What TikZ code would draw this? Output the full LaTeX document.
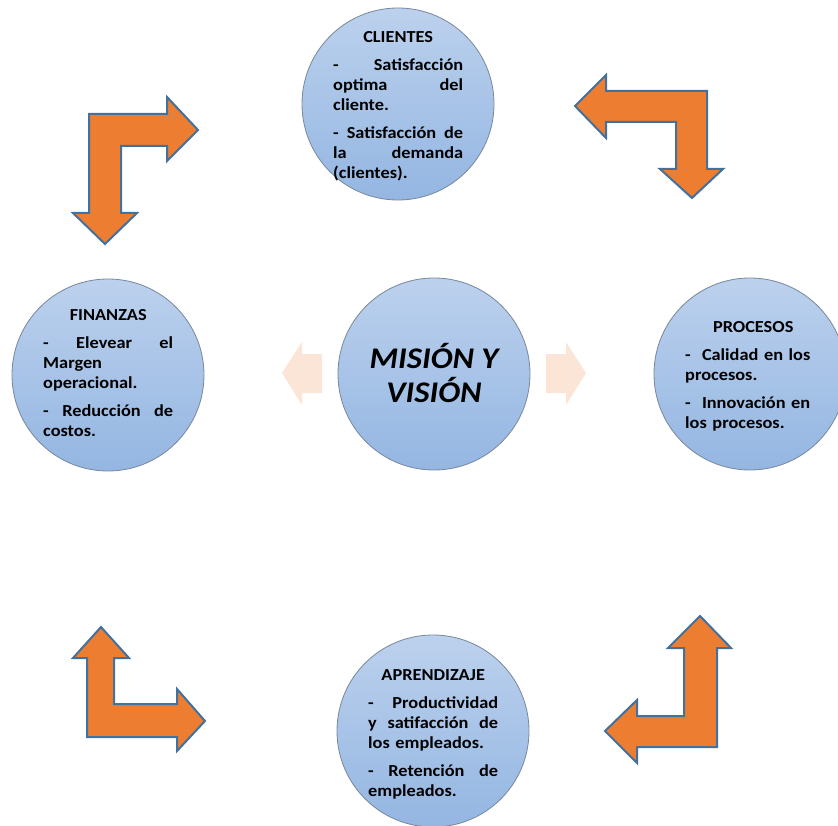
\documentclass[tikz,border=0pt]{standalone}
\usepackage{fontspec}
\setmainfont{Carlito}[FakeStretch=1.09]
\setlength\parindent{0pt}
\definecolor{orangeF}{RGB}{237,125,49}
\definecolor{orangeB}{RGB}{65,113,156}
\definecolor{peach}{RGB}{251,229,214}
\definecolor{ctop}{RGB}{188,209,237}
\definecolor{cbot}{RGB}{148,182,226}
\definecolor{cline}{RGB}{120,135,155}
\begin{document}
\begin{tikzpicture}[x=1pt,y=-1pt,
  circ/.style={circle, minimum size=192pt, inner sep=0pt, draw=cline, line width=0.8pt, top color=ctop, bottom color=cbot},
  bendarrow/.style={fill=orangeF, draw=orangeB, line width=2pt, line join=miter},
  fadearrow/.style={fill=peach},
  txt/.style={anchor=north west, inner sep=0pt, text width=130pt, align=left, font=\fontsize{16.8}{20}\selectfont\bfseries},
  mtxt/.style={inner sep=0pt, align=center, font=\fontsize{30}{34}\selectfont\bfseries\itshape}
  ]
\useasboundingbox (0,0) rectangle (838,826);

% circles
\node[circ] (cli) at (398,104) {};
\node[circ] (fin) at (108,375) {};
\node[circ] (mis) at (434,374) {};
\node[circ] (pro) at (750,374) {};
\node[circ] (apr) at (433,731) {};

% texts
\node[txt] (clit) at (333,31) {\hfill CLIENTES\hfill\null\\[8pt]
-\hfill Satisfacción\\
optima\hfill del\\
cliente.\\[8pt]
-\hfill Satisfacción\hfill de\\
la\hfill demanda\\
(clientes).};

\node[txt] (fint) at (43,309) {\hfill FINANZAS\hfill\null\\[8pt]
-\hfill Elevear\hfill el\\
Margen\\
operacional.\\[8pt]
-\hfill Reducción\hfill de\\
costos.};

\node[txt, text width=136pt] (prot) at (685,321) {\hfill PROCESOS\hfill\null\\[8pt]
-~ Calidad en los\\
procesos.\\[8pt]
-~ Innovación en\\
los procesos.};

\node[txt] (aprt) at (368,669) {\hfill APRENDIZAJE\hfill\null\\[8pt]
-\hfill Productividad\\
y\hfill satifacción\hfill de\\
los empleados.\\[8pt]
-\hfill Retención\hfill de\\
empleados.};

\node[mtxt] (mist) at (434,373) {MISIÓN Y\\VISIÓN};

% bent arrows
\draw[bendarrow] (89,114) -- (167,114) -- (167,97) -- (198,130) -- (167,161) -- (167,146) -- (121,146) -- (121,213) -- (137,213) -- (105,244) -- (73,213) -- (89,213) -- cycle;
\draw[bendarrow] (575,106) -- (606,75) -- (606,91) -- (707,91) -- (707,169) -- (723,169) -- (692,198) -- (660,169) -- (676,169) -- (676,122) -- (606,122) -- (606,138) -- cycle;
\draw[bendarrow] (101,627) -- (129,658) -- (114,658) -- (114,704) -- (177,704) -- (177,689) -- (205,721) -- (177,751) -- (177,737) -- (87,737) -- (87,658) -- (73,658) -- cycle;
\draw[bendarrow] (700,616) -- (731,648) -- (717,648) -- (717,747) -- (637,747) -- (637,763) -- (605,731) -- (637,700) -- (637,716) -- (684,716) -- (684,648) -- (668,648) -- cycle;

% faded arrows
\fill[fadearrow] (282,373) -- (302,342) -- (302,354) -- (322,354) -- (322,393) -- (302,393) -- (302,405) -- cycle;
\fill[fadearrow] (586,373) -- (566,342) -- (566,354) -- (546,354) -- (546,393) -- (566,393) -- (566,405) -- cycle;
\end{tikzpicture}
\end{document}
